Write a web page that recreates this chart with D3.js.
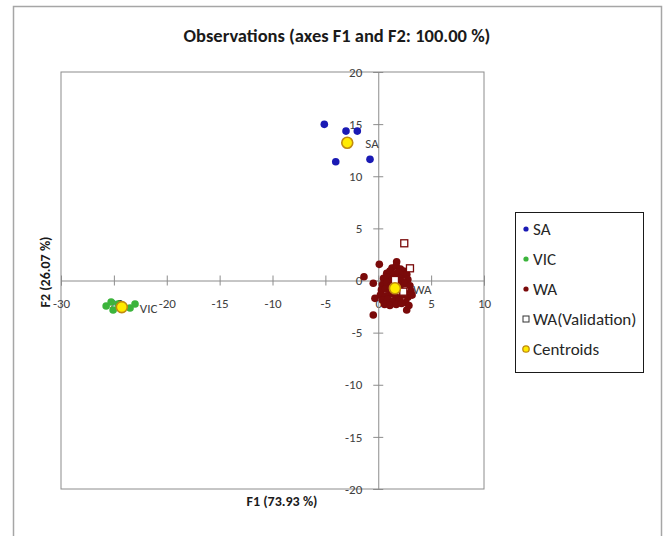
<!DOCTYPE html>
<html>
<head>
<meta charset="utf-8">
<script src="https://cdn.jsdelivr.net/npm/d3@7"></script>
<style>
  body { margin: 0; background: #fff; }
  text { font-family: Calibri, Carlito, Lato, "Open Sans", sans-serif; }
</style>
</head>
<body>
<script>
// DATA (F1, F2 factor scores)
const saPoints = [[-5.10, 14.98], [-3.05, 14.33], [-1.98, 14.33], [-4.02, 11.39], [-0.78, 11.62]];
const vicPoints = [[-25.73, -2.44], [-25.26, -2.06], [-25.07, -2.83], [-24.60, -2.25], [-23.47, -2.64], [-23.00, -2.25]];
const waPoints = [
  [0.10, 1.55], [1.74, 1.80], [-1.35, 0.36], [-0.47, -0.27], [-0.31, -1.71], [-0.47, -3.31], [2.69, -2.83],
  [1.3, 1.2], [1.7, 1.4], [2.1, 1.1], [2.4, 0.9],
  [0.8, 0.7], [1.1, 0.9], [1.5, 0.6], [1.9, 0.8], [2.3, 0.5], [2.7, 0.6],
  [0.5, 0.2], [0.9, 0.3], [1.3, 0.1], [2.0, 0.2], [2.2, -0.1], [2.8, 0.1],
  [0.4, -0.4], [0.8, -0.2], [1.2, -0.5], [2.0, -0.4], [2.5, -0.3], [3.0, -0.5],
  [0.3, -0.9], [0.7, -0.8], [1.1, -1.1], [2.1, -0.9], [2.5, -1.2], [3.1, -1.0],
  [0.2, -1.4], [0.7, -1.5], [1.3, -1.3], [1.7, -1.6], [2.3, -1.4], [2.8, -1.6], [3.2, -1.4],
  [0.4, -1.9], [0.9, -1.8], [1.4, -2.0], [2.0, -1.9], [2.6, -2.1],
  [0.6, -2.3], [1.1, -2.4], [1.7, -2.3], [2.2, -2.2], [2.9, -2.4]
];
const waValidation = [[2.46, 3.57], [3.00, 1.17], [1.58, 0.05], [2.37, -1.07]];
const centroidNames = ["SA", "VIC", "WA"];
const centroids = [[-2.93, 13.21], [-24.25, -2.55], [1.58, -0.75]];
const xTicks = [-30, -25, -20, -15, -10, -5, 0, 5, 10];
const yTicks = [-20, -15, -10, -5, 0, 5, 10, 15, 20];
const legendLabels = ["SA", "VIC", "WA", "WA(Validation)", "Centroids"];

const COLORS = { SA: "#1a1ab4", VIC: "#3cb43c", WA: "#7a0a0a", centroid: "#ffeb00", centroidStroke: "#c08a10" };

const W = 669, H = 536;
const svg = d3.select("body").append("svg").attr("width", W).attr("height", H);

// outer chart frame
svg.append("rect")
  .attr("x", 13.5).attr("y", 6.5).attr("width", 648).attr("height", 545)
  .attr("fill", "none").attr("stroke", "#a6a6a6").attr("stroke-width", 1.5);

const x = d3.scaleLinear().domain([-30, 10]).range([61, 484]);
const y = d3.scaleLinear().domain([-20, 20]).range([489, 72]);

// plot area border
svg.append("rect")
  .attr("x", x(-30)).attr("y", y(20))
  .attr("width", x(10) - x(-30)).attr("height", y(-20) - y(20))
  .attr("fill", "none").attr("stroke", "#8c8c8c");

// axes crossing at 0 (plain hyphen for negatives, like the original)
const fmt = d => String(d);

const xAxis = svg.append("g")
  .attr("transform", `translate(0,${y(0)})`)
  .call(d3.axisBottom(x).tickValues(xTicks).tickFormat(fmt).tickSizeOuter(0).tickSize(5));
xAxis.selectAll(".tick line").attr("y1", -5).attr("y2", 5);
xAxis.selectAll(".tick text").attr("y", 18);

const yAxis = svg.append("g")
  .attr("transform", `translate(${x(0)},0)`)
  .call(d3.axisLeft(y).tickValues(yTicks).tickFormat(fmt).tickSizeOuter(0).tickSize(5));
yAxis.selectAll(".tick line").attr("x1", -5).attr("x2", 5);
yAxis.selectAll(".tick text").attr("x", -16);

[xAxis, yAxis].forEach(a => {
  a.select(".domain").attr("stroke", "#8c8c8c");
  a.selectAll(".tick line").attr("stroke", "#8c8c8c");
  a.selectAll(".tick text").attr("fill", "#404040").style("font-size", "13px")
    .style("font-family", "Calibri, Carlito, Lato, sans-serif");
});

// titles
svg.append("text")
  .attr("x", 337).attr("y", 42)
  .attr("text-anchor", "middle")
  .style("font-size", "18.5px").style("font-weight", "bold").attr("fill", "#1a1a1a")
  .text("Observations (axes F1 and F2: 100.00 %)");

svg.append("text")
  .attr("x", 282).attr("y", 506)
  .attr("text-anchor", "middle")
  .style("font-size", "14px").style("font-weight", "bold").attr("fill", "#1a1a1a")
  .text("F1 (73.93 %)");

svg.append("text")
  .attr("transform", "translate(50,272) rotate(-90)")
  .attr("text-anchor", "middle")
  .style("font-size", "14px").style("font-weight", "bold").attr("fill", "#1a1a1a")
  .text("F2 (26.07 %)");

// points
const dots = (data, color) => svg.append("g").selectAll("circle")
  .data(data).join("circle")
  .attr("cx", d => x(d[0])).attr("cy", d => y(d[1]))
  .attr("r", 3.8).attr("fill", color);

dots(saPoints, COLORS.SA);
dots(vicPoints, COLORS.VIC);
dots(waPoints, COLORS.WA);

svg.append("g").selectAll("rect")
  .data(waValidation).join("rect")
  .attr("x", d => x(d[0]) - 3.5).attr("y", d => y(d[1]) - 3.5)
  .attr("width", 7).attr("height", 7)
  .attr("fill", "#fff").attr("stroke", COLORS.WA).attr("stroke-width", 1.3);

svg.append("g").selectAll("circle")
  .data(centroids).join("circle")
  .attr("cx", d => x(d[0])).attr("cy", d => y(d[1]))
  .attr("r", 5.5).attr("fill", COLORS.centroid)
  .attr("stroke", COLORS.centroidStroke).attr("stroke-width", 1.6);

svg.append("g").selectAll("text")
  .data(centroids).join("text")
  .attr("x", d => x(d[0]) + 18).attr("y", d => y(d[1]) + 1)
  .attr("dy", "0.35em")
  .style("font-size", "13px").attr("fill", "#404040")
  .text((d, i) => centroidNames[i]);

// legend
const legend = svg.append("g");
legend.append("rect")
  .attr("x", 515.5).attr("y", 212.5).attr("width", 128).attr("height", 160)
  .attr("fill", "#fff").attr("stroke", "#1a1a1a");

const item = legend.selectAll("g.item")
  .data(legendLabels).join("g")
  .attr("class", "item")
  .attr("transform", (d, i) => `translate(526,${229 + i * 30})`);

item.each(function(d, i) {
  const g = d3.select(this);
  if (i < 3) {
    g.append("circle").attr("r", 2.6).attr("fill", [COLORS.SA, COLORS.VIC, COLORS.WA][i]);
  } else if (i === 3) {
    g.append("rect").attr("x", -3).attr("y", -3).attr("width", 6).attr("height", 6)
      .attr("fill", "#fff").attr("stroke", "#333").attr("stroke-width", 1);
  } else {
    g.append("circle").attr("r", 3.2).attr("fill", COLORS.centroid)
      .attr("stroke", COLORS.centroidStroke).attr("stroke-width", 1.3);
  }
});

item.append("text")
  .attr("x", 7).attr("dy", "0.35em")
  .style("font-size", "17px").attr("fill", "#262626")
  .text(d => d);
</script>
</body>
</html>
